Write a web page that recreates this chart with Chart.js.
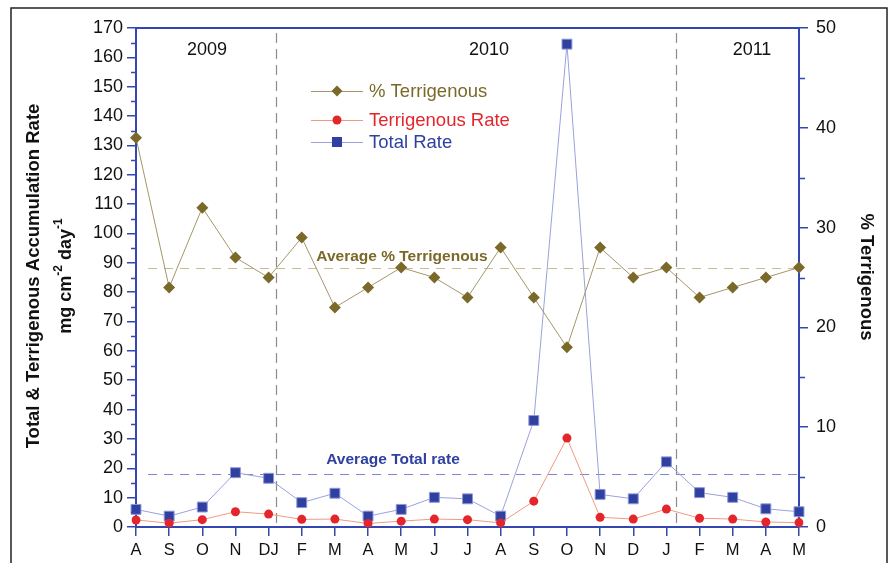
<!DOCTYPE html>
<html>
<head>
<meta charset="utf-8">
<script src="https://cdn.jsdelivr.net/npm/chart.js@4.4.1/dist/chart.umd.min.js"></script>
<style>
  html, body { margin: 0; padding: 0; background: #fff; }
  #wrap { width: 890px; height: 563px; }
</style>
</head>
<body>
<div id="wrap"><canvas id="chart" width="890" height="563"></canvas></div>
<script>
const months = ['A','S','O','N','DJ','F','M','A','M','J','J','A','S','O','N','D','J','F','M','A','M'];
const pctTerrigenous = [39, 24, 32, 27, 25, 29, 22, 24, 26, 25, 23, 28, 23, 18, 28, 25, 26, 23, 24, 25, 26];
const terrigenousRate = [2.4, 1.3, 2.5, 5.2, 4.4, 2.6, 2.7, 1.2, 2.0, 2.7, 2.5, 1.4, 8.8, 30.3, 3.3, 2.7, 6.1, 3.0, 2.7, 1.7, 1.5];
const totalRate = [6.0, 3.7, 6.8, 18.5, 16.6, 8.3, 11.5, 3.7, 6.0, 10.1, 9.6, 3.7, 36.3, 164.5, 11.1, 9.6, 22.2, 11.7, 10.1, 6.2, 5.2];
const avgPctTerrigenous = 26;
const avgTotalRate = 18;
const yearLabels = ['2009', '2010', '2011'];
const yearBreaks = [4.22, 16.3];

const FONT = "'Liberation Sans', Arial, Helvetica, sans-serif";
const AXIS_BLUE = '#3446b0';
const OLIVE = '#7a6928';
const RED = '#e3262c';
const BLUE = '#2f40a0';

function marker(ctx, kind, x, y) {
  ctx.beginPath();
  if (kind === 'diamond') {
    ctx.fillStyle = OLIVE;
    ctx.moveTo(x, y - 5.5); ctx.lineTo(x + 5.5, y); ctx.lineTo(x, y + 5.5); ctx.lineTo(x - 5.5, y);
    ctx.closePath(); ctx.fill();
  } else if (kind === 'circle') {
    ctx.fillStyle = RED;
    ctx.arc(x, y, 4.5, 0, Math.PI * 2); ctx.fill();
  } else {
    ctx.fillStyle = BLUE;
    ctx.fillRect(x - 5, y - 5, 10, 10);
  }
}

const decor = {
  id: 'decor',
  beforeDatasetsDraw(chart) {
    const { ctx, chartArea: a, scales: { x, y, y2 } } = chart;
    ctx.save();
    // year separators
    ctx.strokeStyle = '#8a8a8a';
    ctx.lineWidth = 1.2;
    ctx.setLineDash([10, 6]);
    yearBreaks.forEach(v => {
      const px = Math.round(x.getPixelForValue(v)) + 0.5;
      ctx.beginPath(); ctx.moveTo(px, a.top + 5); ctx.lineTo(px, a.bottom - 2); ctx.stroke();
    });
    // averages
    ctx.setLineDash([9, 7]);
    ctx.strokeStyle = '#c9bc94';
    let py = Math.round(y2.getPixelForValue(avgPctTerrigenous)) + 0.5;
    ctx.beginPath(); ctx.moveTo(a.left + 12, py); ctx.lineTo(a.right, py); ctx.stroke();
    ctx.strokeStyle = '#7c86cc';
    py = Math.round(y.getPixelForValue(avgTotalRate)) + 0.5;
    ctx.beginPath(); ctx.moveTo(a.left + 12, py); ctx.lineTo(a.right, py); ctx.stroke();
    ctx.setLineDash([]);

    ctx.font = 'bold 15.5px ' + FONT;
    ctx.textAlign = 'center';
    ctx.textBaseline = 'middle';
    ctx.fillStyle = OLIVE;
    ctx.fillText('Average % Terrigenous', 402, y2.getPixelForValue(avgPctTerrigenous) - 11);
    ctx.fillStyle = BLUE;
    ctx.fillText('Average Total rate', 393, y.getPixelForValue(avgTotalRate) - 14);
    ctx.restore();
  },
  afterDraw(chart) {
    const { ctx, chartArea: a, scales: { x, y, y2 } } = chart;
    ctx.save();
    // outer frame
    ctx.strokeStyle = '#222';
    ctx.lineWidth = 1.5;
    ctx.strokeRect(11, 8, 876, 570);
    // top border of plot
    ctx.strokeStyle = AXIS_BLUE;
    ctx.lineWidth = 2;
    ctx.beginPath(); ctx.moveTo(a.left, a.top); ctx.lineTo(a.right, a.top); ctx.stroke();
    // minor ticks
    ctx.lineWidth = 1.5;
    for (let v = 5; v < 170; v += 10) {
      const py = Math.round(y.getPixelForValue(v)) + 0.5;
      ctx.beginPath(); ctx.moveTo(a.left - 5, py); ctx.lineTo(a.left, py); ctx.stroke();
    }
    for (let v = 5; v < 50; v += 10) {
      const py = Math.round(y2.getPixelForValue(v)) + 0.5;
      ctx.beginPath(); ctx.moveTo(a.right, py); ctx.lineTo(a.right + 6, py); ctx.stroke();
    }
    // years
    ctx.font = '18px ' + FONT;
    ctx.fillStyle = '#111';
    ctx.textAlign = 'center';
    ctx.textBaseline = 'middle';
    ctx.fillText(yearLabels[0], 207, 50);
    ctx.fillText(yearLabels[1], 489, 50);
    ctx.fillText(yearLabels[2], 752, 50);

    // legend
    const items = [
      { text: '% Terrigenous', color: OLIVE, line: '#a4966a', kind: 'diamond', y: 91 },
      { text: 'Terrigenous Rate', color: RED, line: '#f09a80', kind: 'circle', y: 120 },
      { text: 'Total Rate', color: BLUE, line: '#9aa2dc', kind: 'square', y: 142 }
    ];
    ctx.textAlign = 'left';
    items.forEach(it => {
      ctx.strokeStyle = it.line;
      ctx.lineWidth = 1;
      ctx.beginPath(); ctx.moveTo(311, it.y + 0.5); ctx.lineTo(363, it.y + 0.5); ctx.stroke();
      marker(ctx, it.kind, 337, it.y);
      ctx.fillStyle = it.color;
      ctx.font = '18.5px ' + FONT;
      ctx.fillText(it.text, 369, it.y + 1);
    });

    // left axis title
    ctx.fillStyle = '#111';
    ctx.save();
    ctx.translate(34, 276);
    ctx.rotate(-Math.PI / 2);
    ctx.textAlign = 'center';
    ctx.font = 'bold 18.5px ' + FONT;
    ctx.fillText('Total & Terrigenous Accumulation Rate', 0, 0);
    ctx.restore();

    ctx.save();
    ctx.translate(66, 276);
    ctx.rotate(-Math.PI / 2);
    ctx.textAlign = 'left';
    const big = 'bold 18px ' + FONT, small = 'bold 12px ' + FONT;
    const parts = [['mg cm', big, 0], ['-2', small, -7], [' day', big, 0], ['-1', small, -7]];
    let total = 0;
    parts.forEach(p => { ctx.font = p[1]; total += ctx.measureText(p[0]).width; });
    let cx = -total / 2;
    parts.forEach(p => { ctx.font = p[1]; ctx.fillText(p[0], cx, p[2]); cx += ctx.measureText(p[0]).width; });
    ctx.restore();

    // right axis title
    ctx.save();
    ctx.translate(866, 277);
    ctx.rotate(Math.PI / 2);
    ctx.textAlign = 'center';
    ctx.font = 'bold 18.5px ' + FONT;
    ctx.fillText('% Terrigenous', 0, 0);
    ctx.restore();

    ctx.restore();
  }
};

new Chart(document.getElementById('chart'), {
  type: 'line',
  data: {
    labels: months,
    datasets: [
      {
        label: '% Terrigenous',
        data: pctTerrigenous,
        yAxisID: 'y2',
        borderColor: '#a4966a',
        borderWidth: 1,
        pointStyle: 'rectRot',
        pointRadius: 6,
        pointBackgroundColor: OLIVE,
        pointBorderColor: OLIVE,
        pointBorderWidth: 0
      },
      {
        label: 'Terrigenous Rate',
        data: terrigenousRate,
        yAxisID: 'y',
        borderColor: '#f09a80',
        borderWidth: 1,
        pointStyle: 'circle',
        pointRadius: 4.5,
        pointBackgroundColor: RED,
        pointBorderColor: RED,
        pointBorderWidth: 0
      },
      {
        label: 'Total Rate',
        data: totalRate,
        yAxisID: 'y',
        borderColor: '#9aa2dc',
        borderWidth: 1,
        pointStyle: 'rect',
        pointRadius: 7,
        pointBackgroundColor: BLUE,
        pointBorderColor: '#8d97d8',
        pointBorderWidth: 1
      }
    ]
  },
  options: {
    responsive: false,
    animation: false,
    layout: { padding: { top: 28, left: 0, right: 0, bottom: 0 } },
    plugins: { legend: { display: false }, tooltip: { enabled: false } },
    scales: {
      x: {
        type: 'category',
        offset: false,
        afterFit: s => { s.height = 36; },
        grid: { display: true, drawOnChartArea: false, drawTicks: true, tickLength: 9, color: AXIS_BLUE, lineWidth: 1.5 },
        border: { color: AXIS_BLUE, width: 2 },
        ticks: { color: '#111', font: { family: FONT, size: 16.5 }, padding: 5, maxRotation: 0, autoSkip: false }
      },
      y: {
        position: 'left',
        min: 0,
        max: 170,
        afterFit: s => { s.width = 136; },
        grid: { display: true, drawOnChartArea: false, drawTicks: true, tickLength: 9, color: AXIS_BLUE, lineWidth: 1.5 },
        border: { color: AXIS_BLUE, width: 2 },
        ticks: { stepSize: 10, color: '#111', font: { family: FONT, size: 18 }, padding: 4 }
      },
      y2: {
        position: 'right',
        min: 0,
        max: 50,
        afterFit: s => { s.width = 91; },
        grid: { display: true, drawOnChartArea: false, drawTicks: true, tickLength: 9, color: AXIS_BLUE, lineWidth: 1.5 },
        border: { color: AXIS_BLUE, width: 2 },
        ticks: { stepSize: 10, color: '#111', font: { family: FONT, size: 18 }, padding: 8 }
      }
    }
  },
  plugins: [decor]
});
</script>
</body>
</html>
